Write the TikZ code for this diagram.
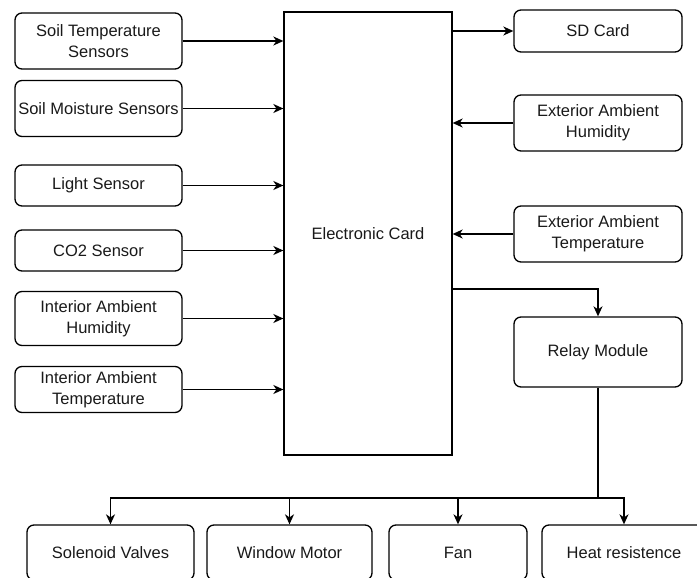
\documentclass[tikz,border=0pt]{standalone}
\usepackage{fontspec}
\setmainfont{Liberation Sans}
\usetikzlibrary{arrows.meta}
\begin{document}
\begin{tikzpicture}[x=1pt,y=-1pt,
  box/.style={draw, rounded corners=7pt, line width=1.3pt, align=center, inner sep=0pt,
    font=\fontsize{16.5}{21}\selectfont, text=black!90},
  card/.style={draw, line width=1.3pt, inner sep=0pt, font=\fontsize{16.5}{21}\selectfont, text=black!90},
  arr/.style={line width=1.3pt, -{Stealth[length=10pt,width=9pt,inset=3pt]}},
  ln/.style={line width=1.3pt}]
\useasboundingbox (0,0) rectangle (697,578);
% left inputs
\node[box, minimum width=167pt, minimum height=56pt] (st) at (98.5,41) {Soil Temperature\\Sensors};
\node[box, minimum width=167pt, minimum height=56pt] (sm) at (98.5,108.5) {Soil Moisture Sensors};
\node[box, minimum width=167pt, minimum height=41pt] (ls) at (98.5,185.5) {Light Sensor};
\node[box, minimum width=167pt, minimum height=41pt] (co) at (98.5,250.5) {CO2 Sensor};
\node[box, minimum width=167pt, minimum height=54pt] (ih) at (98.5,318.5) {Interior Ambient\\Humidity};
\node[box, minimum width=167pt, minimum height=46pt] (it) at (98.5,389.5) {Interior Ambient\\Temperature};
% card
\node[card, minimum width=168pt, minimum height=443pt] (ec) at (368,233.5) {Electronic Card};
% right
\node[box, minimum width=168pt, minimum height=42pt] (sd) at (598,31) {SD Card};
\node[box, minimum width=168pt, minimum height=56pt] (eh) at (598,123) {Exterior Ambient\\Humidity};
\node[box, minimum width=168pt, minimum height=56pt] (et) at (598,234) {Exterior Ambient\\Temperature};
\node[box, minimum width=168pt, minimum height=70pt] (rm) at (598,352) {Relay Module};
% bottom
\node[box, minimum width=167pt, minimum height=55pt] (sv) at (110.5,552.5) {Solenoid Valves};
\node[box, minimum width=165pt, minimum height=55pt] (wm) at (289.5,552.5) {Window Motor};
\node[box, minimum width=138pt, minimum height=55pt] (fan) at (458,552.5) {Fan};
\node[box, minimum width=164pt, minimum height=55pt] (hr) at (624,552.5) {Heat resistence};
% connectors in
\foreach \n in {st,sm,ls,co,ih,it}
  \draw[arr] (\n.east) -- (\n.east -| ec.west);
\draw[arr] (ec.east |- sd.west) -- (sd.west);
\draw[arr] (eh.west) -- (eh.west -| ec.east);
\draw[arr] (et.west) -- (et.west -| ec.east);
\coordinate (tap) at (ec.east |- 0,289);
\draw[arr] (tap) -| (rm.north);
\coordinate (bus) at (rm.south |- 0,498);
\draw[ln] (rm.south) -- (bus);
\foreach \n in {sv,wm,fan,hr}
  \draw[arr] (bus) -| (\n.north);
\end{tikzpicture}
\end{document}
